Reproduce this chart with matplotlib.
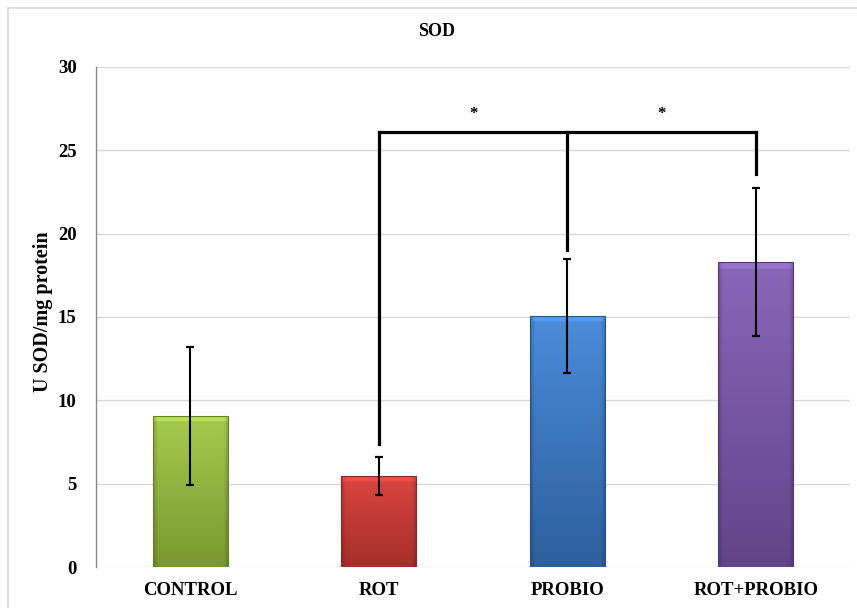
import numpy as np
import matplotlib
matplotlib.use("Agg")
import matplotlib.pyplot as plt
from matplotlib.colors import to_rgb
from matplotlib.patches import Rectangle

categories = ["CONTROL", "ROT", "PROBIO", "ROT+PROBIO"]
means = [9.07, 5.46, 15.06, 18.3]
errors = [4.15, 1.12, 3.43, 4.45]
top_colors = ["#A6CB4E", "#DA4540", "#4B8CDA", "#8B66B9"]
bot_colors = ["#789830", "#A52E29", "#2D5F9D", "#62448A"]
bracket_y = 26.1
bracket_legs = [7.4, 19.0, 23.6]   # lower ends of legs for ROT, PROBIO, ROT+PROBIO
star_y = 27.2
yticks = [0, 5, 10, 15, 20, 25, 30]

plt.rcParams['font.family'] = ['Liberation Serif', 'DejaVu Serif']
plt.rcParams['font.weight'] = 'bold'

fig = plt.figure(figsize=(8.57, 6.08), dpi=100)
ax = fig.add_axes([96/857, 1-567/608, (850-96)/857, 500/608])

x = np.arange(len(categories))
bars = ax.bar(x, means, width=0.4, color=top_colors, zorder=2)

for b, ct, cb in zip(bars, top_colors, bot_colors):
    x0, y0 = b.get_x(), b.get_y()
    w, h = b.get_width(), b.get_height()
    t = np.array(to_rgb(ct)); bo = np.array(to_rgb(cb))
    ny, nx = 200, 60
    fy = np.linspace(1, 0, ny)[:, None, None]
    img = bo + (t - bo) * fy
    img = np.repeat(img, nx, axis=1)
    xx = np.linspace(0, 1, nx)
    edge = np.clip(np.minimum(xx, 1 - xx) / 0.06, 0, 1)
    shade = 0.82 + 0.18 * edge
    img = img * shade[None, :, None]
    topband = int(ny * 0.02 * 15 / max(h, 1)) + 2
    img[:topband] = np.clip(img[:topband] * 1.12, 0, 1)
    im = ax.imshow(img, extent=[x0, x0 + w, y0, y0 + h], aspect='auto',
                   zorder=3, interpolation='bilinear')
    im.set_clip_path(b)
    b.set_facecolor('none')
    b.set_edgecolor((bo * 0.85).tolist())
    b.set_linewidth(0.8)
    b.set_zorder(4)

ax.errorbar(x, means, yerr=errors, fmt='none', ecolor='black', elinewidth=1.5,
            capsize=3, capthick=1.6, zorder=5)

# significance bracket
bx = x[1:]
ax.plot([bx[0], bx[-1]], [bracket_y, bracket_y], color='black', lw=2.3,
        zorder=6, solid_capstyle='projecting')
for xi, yl in zip(bx, bracket_legs):
    ax.plot([xi, xi], [yl, bracket_y], color='black', lw=2.3, zorder=6)
for i in range(len(bx) - 1):
    ax.text((bx[i] + bx[i + 1]) / 2, star_y, '*', ha='center', va='center',
            fontsize=12, fontweight='bold')

ax.set_xlim(-0.5, len(categories) - 0.5)
ax.set_ylim(0, 30)
ax.set_yticks(yticks)
ax.set_xticks(x)
ax.set_xticklabels(categories, fontsize=13.5, fontweight='bold')
ax.tick_params(axis='y', length=0, pad=14, labelsize=13.5)
ax.tick_params(axis='x', length=0, pad=11)
ax.grid(axis='y', color='#D9D9D9', lw=1, zorder=0)
ax.set_axisbelow(True)
for s in ['top', 'right', 'bottom']:
    ax.spines[s].set_visible(False)
ax.spines['left'].set_color('#868686')
ax.spines['left'].set_linewidth(1)

ax.set_ylabel('U SOD/mg protein', fontsize=14.5, fontweight='bold')
ax.yaxis.set_label_coords(-43/754, 0.51)
fig.text(437/857, 1 - 32/608, 'SOD', ha='center', va='center', fontsize=13,
         fontweight='bold')

fig.patches.append(Rectangle((8/857, -0.1), 1.2, 1 - 8/608 + 0.1,
                             transform=fig.transFigure, fill=False,
                             edgecolor='#D9D9D9', lw=1.2))

fig.savefig('out.png', dpi=100)
